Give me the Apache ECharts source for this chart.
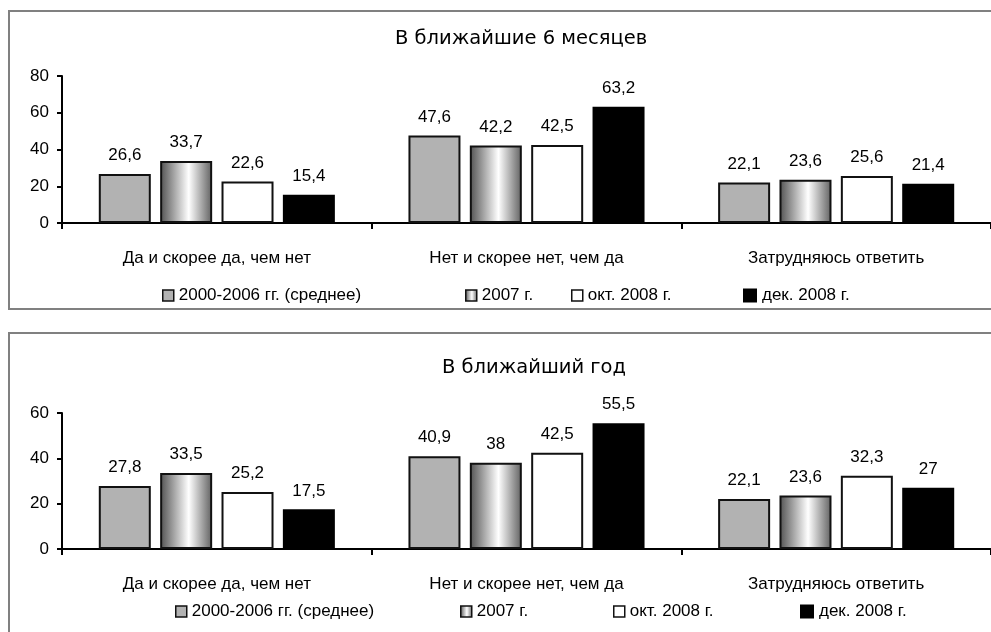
<!DOCTYPE html>
<html>
<head>
<meta charset="utf-8">
<script src="https://cdn.jsdelivr.net/npm/echarts@6/dist/echarts.min.js"></script>
<style>
  html, body { margin: 0; padding: 0; background: #fff; }
  #chart { width: 991px; height: 632px; }
</style>
</head>
<body>
<div id="chart"></div>
<script>
const categories = ['Да и скорее да, чем нет', 'Нет и скорее нет, чем да', 'Затрудняюсь ответить'];
const seriesNames = ['2000-2006 гг. (среднее)', '2007 г.', 'окт. 2008 г.', 'дек. 2008 г.'];
const titles = ['В ближайшие 6 месяцев', 'В ближайший год'];

// В ближайшие 6 месяцев
const sixMonths = [
  [26.6, 47.6, 22.1],
  [33.7, 42.2, 23.6],
  [22.6, 42.5, 25.6],
  [15.4, 63.2, 21.4]
];
// В ближайший год
const oneYear = [
  [27.8, 40.9, 22.1],
  [33.5, 38, 23.6],
  [25.2, 42.5, 32.3],
  [17.5, 55.5, 27]
];
const yMax = [80, 60];

const textFont = 'Liberation Sans';

const fills = [
  '#b2b2b2',
  new echarts.graphic.LinearGradient(0, 0, 1, 0, [
    { offset: 0, color: '#505050' },
    { offset: 0.55, color: '#ffffff' },
    { offset: 1, color: '#606060' }
  ]),
  '#ffffff',
  '#000000'
];

const chart = echarts.init(document.getElementById('chart'));

const grids = [
  { left: 62, top: 76, height: 147, right: -13 },
  { left: 62, top: 413, height: 136, right: -13 }
];

const xAxes = grids.map((g, i) => ({
  type: 'category',
  gridIndex: i,
  data: categories,
  axisLine: { lineStyle: { color: '#000', width: 2 } },
  axisTick: { show: true, length: 6, lineStyle: { color: '#000', width: 2 } },
  axisLabel: { color: '#000', fontFamily: textFont, fontSize: 17, margin: 27 }
}));

const yAxes = grids.map((g, i) => ({
  type: 'value',
  gridIndex: i,
  min: 0,
  max: yMax[i],
  interval: 20,
  axisLine: { show: true, lineStyle: { color: '#000', width: 2 } },
  axisTick: { show: true, length: 5, lineStyle: { color: '#000', width: 2 } },
  splitLine: { show: false },
  axisLabel: { color: '#000', fontFamily: textFont, fontSize: 17, margin: 13 }
}));

const series = [];
[sixMonths, oneYear].forEach((set, gi) => {
  set.forEach((vals, si) => {
    series.push({
      name: seriesNames[si],
      type: 'bar',
      xAxisIndex: gi,
      yAxisIndex: gi,
      data: vals,
      barWidth: 52,
      barGap: '18%',
      itemStyle: { color: fills[si], borderColor: '#111', borderWidth: si === 3 ? 0 : 2 },
      label: {
        show: true,
        position: 'top',
        distance: 10,
        color: '#000',
        fontFamily: textFont,
        fontSize: 17,
        formatter: p => String(p.value).replace('.', ',')
      }
    });
  });
});

const legendX = [[157, 460, 566, 738], [170, 455, 608, 795]];
const legendY = [282, 598];
const legends = [];
legendX.forEach((xs, gi) => {
  xs.forEach((x, si) => {
    legends.push({
      data: [seriesNames[si]],
      left: x,
      top: legendY[gi],
      icon: 'rect',
      itemWidth: si === 3 ? 14 : 11,
      itemHeight: si === 3 ? 14 : 11,
      itemStyle: { borderColor: '#111', borderWidth: si === 3 ? 0 : 1.5 },
      selectedMode: false,
      textStyle: { color: '#000', fontFamily: textFont, fontSize: 17 }
    });
  });
});

const titleFont = { fontFamily: '"DejaVu Sans", sans-serif', fontWeight: 'normal', fontSize: 19.5, color: '#000' };

const option = {
  backgroundColor: '#fff',
  animation: false,
  title: [
    { text: titles[0], left: 390, top: 24, textStyle: titleFont },
    { text: titles[1], left: 437, top: 353, textStyle: titleFont }
  ],
  graphic: [
    { type: 'rect', shape: { x: 9, y: 11, width: 1000, height: 298 }, style: { fill: null, stroke: '#808080', lineWidth: 2 }, z: -1 },
    { type: 'rect', shape: { x: 9, y: 333, width: 1000, height: 320 }, style: { fill: null, stroke: '#808080', lineWidth: 2 }, z: -1 }
  ],
  legend: legends,
  grid: grids,
  xAxis: xAxes,
  yAxis: yAxes,
  series: series
};
chart.setOption(option);
</script>
</body>
</html>
